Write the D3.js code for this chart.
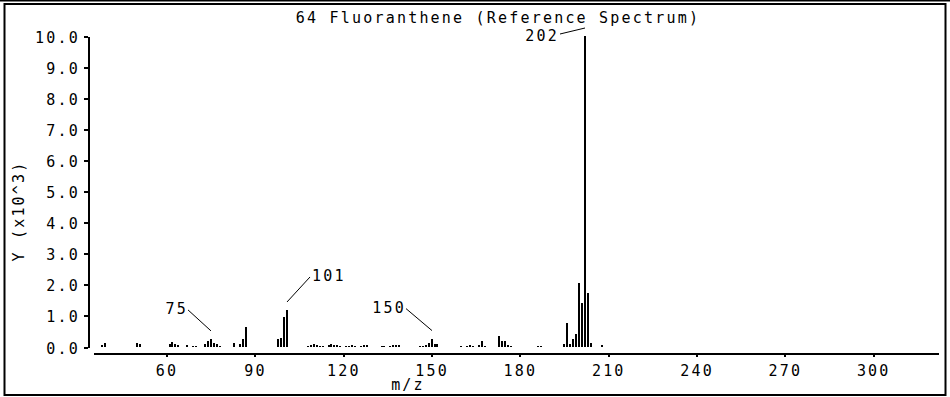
<!DOCTYPE html>
<html>
<head>
<meta charset="utf-8">
<script src="https://cdn.jsdelivr.net/npm/d3@7"></script>
<style>
    body{ margin:0; background:#fff; }
    svg text{ font-family:"DejaVu Sans Mono", "Liberation Mono", monospace; font-size:15px; letter-spacing:2.2px; fill:#000; }
</style>
</head>
<body>
<div id="chart"></div>
<script>
//Peaks of the spectrum, m/z and abundance (counts)
var mz = [38, 39, 50, 51, 61, 62, 63, 64, 67, 69, 70, 73, 74, 75, 76, 77, 78,
    83, 85, 86, 87, 98, 99, 100, 101,
    108, 109, 110, 111, 112, 113, 115, 116, 117, 118, 119,
    121, 122, 123, 124, 126, 127, 128, 133, 134, 136, 137, 138, 139,
    146, 147, 148, 149, 150, 151, 152,
    160, 162, 163, 164, 166, 167, 168, 173, 174, 175, 176, 177, 186, 187,
    195, 196, 197, 198, 199, 200, 201, 202, 203, 204, 208];
var abundance = [70, 130, 130, 100, 100, 160, 100, 60, 60, 40, 40, 90, 180, 260, 130, 90, 30,
    130, 100, 250, 650, 250, 290, 950, 1190,
    40, 60, 90, 60, 30, 40, 50, 100, 50, 80, 30,
    30, 40, 80, 30, 30, 80, 80, 30, 40, 30, 80, 80, 80,
    30, 30, 80, 120, 270, 100, 100,
    30, 30, 60, 40, 60, 180, 40, 340, 190, 190, 50, 30, 40, 40,
    90, 770, 100, 250, 420, 2060, 1430, 10000, 1740, 140, 50];
//Peaks that get a label
var labelled = [75, 101, 150, 202];
var xTicks = [60, 90, 120, 150, 180, 210, 240, 270, 300];
var yTicks = [0, 1000, 2000, 3000, 4000, 5000, 6000, 7000, 8000, 9000, 10000];

var title = "64 Fluoranthene (Reference Spectrum)";

//Where each label sits relative to its peak top: line start/end, text offset, anchor
var labelLayout = {
    75:  { x1: 0, y1: -8, x2: -23, y2: -29, tx: 0, ty: 4, anchor: "end" },
    101: { x1: 0, y1: -8, x2: 23, y2: -33, tx: 2, ty: 4, anchor: "start" },
    150: { x1: 0, y1: -8, x2: -26, y2: -30, tx: 0, ty: 4, anchor: "end" },
    202: { x1: 0, y1: -8, x2: -25, y2: -2, tx: -1, ty: 7, anchor: "end" }
};

var width = 950;
var height = 397;

var svg = d3.select("#chart")
    .append("svg")
    .attr("width", width)
    .attr("height", height);

//Frame
svg.append("line").attr("x1", 0).attr("x2", width).attr("y1", 0.5).attr("y2", 0.5)
    .attr("stroke", "#000").attr("stroke-width", 2);
svg.append("rect")
    .attr("x", 4.5).attr("y", 4)
    .attr("width", 941).attr("height", 391)
    .attr("fill", "none").attr("stroke", "#000").attr("stroke-width", 2);

var x = d3.scaleLinear().domain([35, 322]).range([93, 938]);
var y = d3.scaleLinear().domain([0, 10000]).range([347, 36]);

//Title
svg.append("text")
    .attr("x", 498).attr("y", 23)
    .attr("text-anchor", "middle")
    .text(title);

//X axis
var xAxis = svg.append("g")
    .attr("transform", "translate(0,353)")
    .call(d3.axisBottom(x).tickValues(xTicks).tickSize(4).tickSizeOuter(0).tickPadding(5));

//Y axis
var yAxis = svg.append("g")
    .attr("transform", "translate(88,0)")
    .call(d3.axisLeft(y).tickValues(yTicks).tickSize(4).tickSizeOuter(0).tickPadding(4)
        .tickFormat(function(d){ return d3.format(".1f")(d / 1000); }));

[xAxis, yAxis].forEach(function(ax){
    ax.selectAll("path,line").attr("stroke", "#000").attr("stroke-width", 2).attr("shape-rendering", "crispEdges");
    ax.selectAll("text").attr("font-family", null).attr("font-size", null).attr("fill", "#000");
});
yAxis.selectAll("text").attr("dy", "0.4em");
xAxis.selectAll("text").attr("dy", "0.9em");

//Axis titles
svg.append("text")
    .attr("x", 408).attr("y", 390)
    .attr("text-anchor", "middle")
    .text("m/z");
svg.append("text")
    .attr("transform", "translate(24,211) rotate(-90)")
    .attr("text-anchor", "middle")
    .text("Y (x10^3)");

//Peaks
var peaks = mz.map(function(m, i){ return { mz: m, value: abundance[i] }; });

svg.append("g")
    .selectAll("rect")
    .data(peaks)
    .enter()
    .append("rect")
        .attr("x", function(d){ return Math.round(x(d.mz)) - 1; })
        .attr("y", function(d){ return y(d.value); })
        .attr("width", 2)
        .attr("height", function(d){ return y(0) - y(d.value); })
        .attr("fill", "#000")
        .attr("shape-rendering", "crispEdges");

//Peak labels
labelled.forEach(function(m){
    var p = peaks.filter(function(d){ return d.mz === m; })[0];
    var l = labelLayout[m];
    var px = Math.round(x(p.mz));
    var py = y(p.value);
    svg.append("line")
        .attr("x1", px + l.x1).attr("y1", py + l.y1)
        .attr("x2", px + l.x2).attr("y2", py + l.y2)
        .attr("stroke", "#000").attr("stroke-width", 1);
    svg.append("text")
        .attr("x", px + l.x2 + l.tx)
        .attr("y", py + l.y2 + l.ty)
        .attr("text-anchor", l.anchor)
        .text(m);
});
</script>
</body>
</html>
